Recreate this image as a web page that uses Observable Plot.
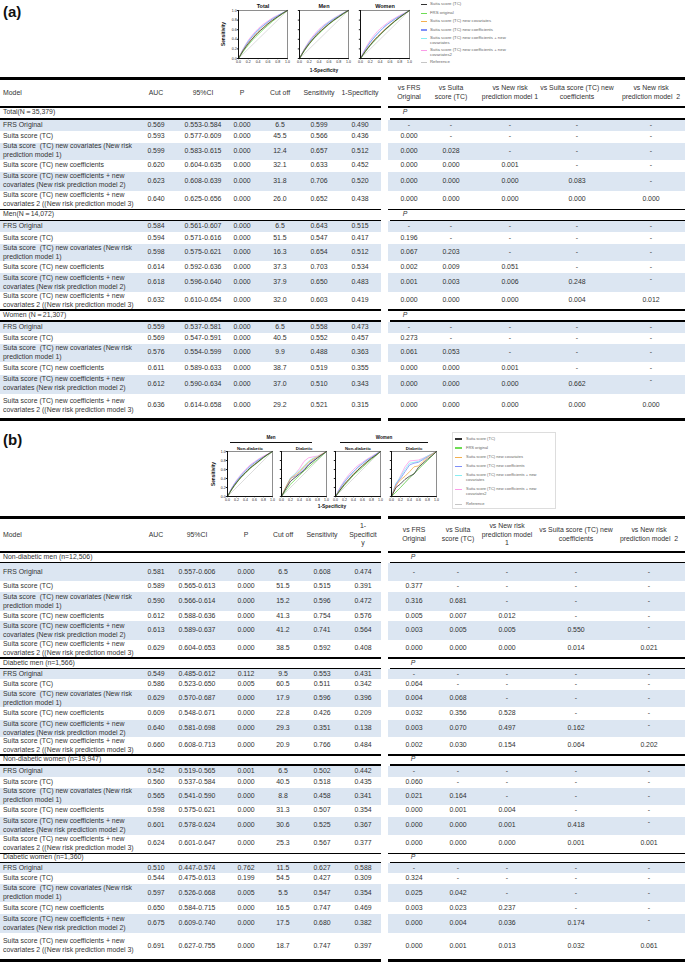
<!DOCTYPE html>
<html>
<head>
<meta charset="utf-8">
<script src="https://cdn.jsdelivr.net/npm/d3@7"></script>
<script src="https://cdn.jsdelivr.net/npm/@observablehq/plot@0.6"></script>
<style>
html, body { margin:0; padding:0; background:#fff; }
#page { position:relative; width:685px; height:963px; overflow:hidden; font-family:"Liberation Sans", Arial, sans-serif; color:#333; }
#page div { box-sizing:border-box; }
</style>
</head>
<body>
<div id="page"></div>
<script>
// ================= DATA =================
// ROC curve series (order of curves in each panel)
const seriesNames = ["Suita score (TC)", "FRS original", "Suita score (TC) new covariates", "Suita score (TC) new coefficients", "Suita score (TC) new coefficients + new covariates", "Suita score (TC) new coefficients + new covariates2"];
const legendLabels = ["Suita score (TC)", "FRS original", "Suita score (TC) new covariates", "Suita score (TC) new coefficients", "Suita score (TC) new coefficients + new\ncovariates", "Suita score (TC) new coefficients + new\ncovariates2", "Reference"];
const fpr = [0, 0.1, 0.2, 0.3, 0.4, 0.5, 0.6, 0.7, 0.8, 0.9, 1];
const refFpr = [0, 1];
const refTpr = [0, 1];

// (a) panels: sensitivity at each 1-specificity in fpr; rows = series order above
const rocTotal = [
  [0,.17,.31,.43,.54,.63,.72,.80,.87,.94,1],
  [0,.15,.28,.40,.50,.60,.69,.78,.86,.93,1],
  [0,.18,.32,.44,.55,.64,.73,.80,.87,.94,1],
  [0,.19,.35,.48,.59,.68,.76,.83,.89,.95,1],
  [0,.20,.36,.48,.59,.68,.76,.83,.89,.95,1],
  [0,.21,.38,.51,.62,.71,.78,.85,.90,.95,1]
];
const rocMen = [
  [0,.17,.31,.43,.54,.63,.72,.80,.87,.94,1],
  [0,.16,.30,.42,.52,.62,.71,.79,.86,.93,1],
  [0,.18,.32,.44,.55,.64,.72,.80,.87,.94,1],
  [0,.19,.34,.47,.58,.67,.75,.82,.88,.95,1],
  [0,.19,.35,.47,.58,.68,.76,.83,.89,.95,1],
  [0,.20,.37,.50,.61,.70,.77,.84,.90,.95,1]
];
const rocWomen = [
  [0,.15,.28,.40,.50,.60,.69,.78,.86,.93,1],
  [0,.14,.27,.38,.49,.59,.68,.77,.85,.93,1],
  [0,.16,.29,.41,.51,.61,.70,.78,.86,.93,1],
  [0,.19,.34,.46,.57,.67,.75,.82,.88,.94,1],
  [0,.18,.34,.47,.58,.67,.75,.82,.88,.94,1],
  [0,.21,.38,.51,.62,.70,.78,.84,.90,.95,1]
];
// (b) panels
const rocMenNonDiab = [
  [0,.17,.31,.43,.53,.63,.71,.79,.87,.94,1],
  [0,.16,.30,.42,.52,.62,.70,.78,.86,.93,1],
  [0,.17,.31,.43,.54,.63,.72,.79,.87,.94,1],
  [0,.19,.34,.46,.57,.67,.75,.82,.88,.94,1],
  [0,.19,.34,.47,.57,.67,.75,.82,.88,.94,1],
  [0,.20,.36,.49,.60,.70,.77,.84,.90,.95,1]
];
const rocMenDiab = [
  [0,.18,.34,.42,.50,.58,.70,.78,.86,.93,1],
  [0,.14,.27,.37,.47,.57,.65,.74,.82,.91,1],
  [0,.22,.40,.47,.55,.66,.76,.83,.88,.94,1],
  [0,.20,.40,.45,.52,.62,.72,.80,.86,.93,1],
  [0,.22,.42,.50,.58,.68,.78,.85,.89,.94,1],
  [0,.20,.40,.50,.62,.78,.86,.88,.90,.95,1]
];
const rocWomenNonDiab = [
  [0,.14,.27,.38,.49,.59,.68,.77,.85,.92,1],
  [0,.13,.25,.36,.47,.56,.65,.74,.83,.91,1],
  [0,.15,.28,.39,.50,.60,.69,.77,.85,.92,1],
  [0,.18,.32,.44,.55,.65,.73,.81,.87,.94,1],
  [0,.18,.33,.45,.55,.65,.73,.81,.87,.94,1],
  [0,.20,.36,.49,.60,.69,.76,.83,.89,.95,1]
];
const rocWomenDiab = [
  [0,.20,.28,.38,.45,.50,.65,.74,.83,.91,1],
  [0,.10,.20,.31,.42,.51,.61,.71,.80,.90,1],
  [0,.25,.37,.45,.55,.66,.68,.78,.87,.94,1],
  [0,.28,.40,.55,.70,.74,.76,.82,.88,.94,1],
  [0,.29,.44,.60,.74,.76,.78,.84,.90,.95,1],
  [0,.22,.46,.66,.79,.80,.81,.85,.90,.95,1]
];

// Table rows (models)
const models = [
  "FRS Original",
  "Suita score (TC)",
  "Suta score  (TC) new covariates (New risk\nprediction model 1)",
  "Suita score (TC) new coefficients",
  "Suita score (TC) new coefficients + new\ncovariates (New risk prediction model 2)",
  "Suita score (TC) new coefficients + new\ncovariates 2 ((New risk prediction model 3)"
];
const headLeftA = ["AUC", "95%CI", "P", "Cut off", "Sensitivity", "1-Specificity"];
const headLeftB = ["AUC", "95%CI", "P", "Cut off", "Sensitivity", "1-\nSpecificit\ny"];
const headRightA = ["vs FRS\nOriginal", "vs Suita\nscore (TC)", "vs New risk\nprediction model 1", "vs Suita score (TC) new\ncoefficients", "vs New risk\nprediction model  2"];
const headRightB = ["vs FRS\nOriginal", "vs Suita\nscore (TC)", "vs New risk\nprediction model\n1", "vs Suita score (TC) new\ncoefficients", "vs New risk\nprediction model  2"];

// (a) table
const groupsA = ["Total(N\uFF1D35,379)", "Men(N\uFF1D14,072)", "Women (N\uFF1D21,307)"];
const aucA = [[0.569,0.593,0.599,0.620,0.623,0.640],[0.584,0.594,0.598,0.614,0.618,0.632],[0.559,0.569,0.576,0.611,0.612,0.636]];
const ciA = [["0.553-0.584","0.577-0.609","0.583-0.615","0.604-0.635","0.608-0.639","0.625-0.656"],
             ["0.561-0.607","0.571-0.616","0.575-0.621","0.592-0.636","0.596-0.640","0.610-0.654"],
             ["0.537-0.581","0.547-0.591","0.554-0.599","0.589-0.633","0.590-0.634","0.614-0.658"]];
const pA = [[0,0,0,0,0,0],[0,0,0,0,0,0],[0,0,0,0,0,0]];
const cutA = [[6.5,45.5,12.4,32.1,31.8,26.0],[6.5,51.5,16.3,37.3,37.9,32.0],[6.5,40.5,9.9,38.7,37.0,29.2]];
const sensA = [[0.599,0.566,0.657,0.633,0.706,0.652],[0.643,0.547,0.654,0.703,0.650,0.603],[0.558,0.552,0.488,0.519,0.510,0.521]];
const specA = [[0.490,0.436,0.512,0.452,0.520,0.438],[0.515,0.417,0.512,0.534,0.483,0.419],[0.473,0.457,0.363,0.355,0.343,0.315]];
const cmpA = [
  [[],[0.000],[0.000,0.028],[0.000,0.000,0.001],[0.000,0.000,0.000,0.083],[0.000,0.000,0.000,0.000,0.000]],
  [[],[0.196],[0.067,0.203],[0.002,0.009,0.051],[0.001,0.003,0.006,0.248],[0.000,0.000,0.000,0.004,0.012]],
  [[],[0.273],[0.061,0.053],[0.000,0.000,0.001],[0.000,0.000,0.000,0.662],[0.000,0.000,0.000,0.000,0.000]]
];
const raisedDashA = [false, true, true];

// (b) table
const groupsB = ["Non-diabetic men (n=12,506)", "Diabetic men (n=1,566)", "Non-diabetic women (n=19,947)", "Diabetic women (n=1,360)"];
const aucB = [[0.581,0.589,0.590,0.612,0.613,0.629],[0.549,0.586,0.629,0.609,0.640,0.660],[0.542,0.560,0.565,0.598,0.601,0.624],[0.510,0.544,0.597,0.650,0.675,0.691]];
const ciB = [["0.557-0.606","0.565-0.613","0.566-0.614","0.588-0.636","0.589-0.637","0.604-0.653"],
             ["0.485-0.612","0.523-0.650","0.570-0.687","0.548-0.671","0.581-0.698","0.608-0.713"],
             ["0.519-0.565","0.537-0.584","0.541-0.590","0.575-0.621","0.578-0.624","0.601-0.647"],
             ["0.447-0.574","0.475-0.613","0.526-0.668","0.584-0.715","0.609-0.740","0.627-0.755"]];
const pB = [[0,0,0,0,0,0],[0.112,0.005,0,0,0,0],[0.001,0,0,0,0,0],[0.762,0.199,0.005,0,0,0]];
const cutB = [[6.5,51.5,15.2,41.3,41.2,38.5],[9.5,60.5,17.9,22.8,29.3,20.9],[6.5,40.5,8.8,31.3,30.6,25.3],[11.5,54.5,5.5,16.5,17.5,18.7]];
const sensB = [[0.608,0.515,0.596,0.754,0.741,0.592],[0.553,0.511,0.596,0.426,0.351,0.766],[0.502,0.518,0.458,0.507,0.525,0.567],[0.627,0.427,0.547,0.747,0.680,0.747]];
const specB = [[0.474,0.391,0.472,0.576,0.564,0.408],[0.431,0.342,0.396,0.209,0.138,0.484],[0.442,0.435,0.341,0.354,0.367,0.377],[0.588,0.309,0.354,0.469,0.382,0.397]];
const cmpB = [
  [[],[0.377],[0.316,0.681],[0.005,0.007,0.012],[0.003,0.005,0.005,0.550],[0.000,0.000,0.000,0.014,0.021]],
  [[],[0.064],[0.004,0.068],[0.032,0.356,0.528],[0.003,0.070,0.497,0.162],[0.002,0.030,0.154,0.064,0.202]],
  [[],[0.060],[0.021,0.164],[0.000,0.001,0.004],[0.000,0.000,0.001,0.418],[0.000,0.000,0.000,0.001,0.001]],
  [[],[0.324],[0.025,0.042],[0.003,0.023,0.237],[0.000,0.004,0.036,0.174],[0.000,0.001,0.013,0.032,0.061]]
];
const raisedDashB = [true, true, true, true];

// ================= STYLE / LAYOUT =================
const seriesColors = ["#333333", "#6fdd55", "#f4b04f", "#7f8ff8", "#88eef2", "#fb9ce8"];
const referenceColor = "#c6c6c6";
const shade = "#dce6f2";
const tableFont = 6.9;

const page = document.getElementById("page");
function el(css, text) {
  const d = document.createElement("div");
  d.style.cssText = "position:absolute;" + css;
  if (text != null) d.textContent = text;
  page.appendChild(d);
  return d;
}
function hline(y, x0, x1, w) { el(`left:${x0}px;top:${y}px;width:${x1 - x0}px;height:${w}px;background:#000;`); }
function band(y, h, x0, x1) { el(`left:${x0}px;top:${y}px;width:${x1 - x0}px;height:${h}px;background:${shade};`); }
function cell(x, y, w, h, text, align, extra) {
  return el(`left:${x}px;top:${y}px;width:${w}px;height:${h}px;display:flex;align-items:center;justify-content:${align === "left" ? "flex-start" : "center"};text-align:${align};font-size:${tableFont}px;line-height:8.6px;white-space:pre;${extra || ""}`, text);
}

function drawTable(T, L) {
  let y = L.top;
  hline(y, L.lx0, L.lx1, L.thick); hline(y, L.rx0, L.rx1, L.thick);
  y += L.thick;
  cell(L.modelX, y, 60, L.headerH, "Model", "left");
  T.headLeft.forEach((h, i) => cell(L.lc[i] - 30, y, 60, L.headerH, h, "center"));
  T.headRight.forEach((h, i) => cell(L.rc[i] - 45, y, 90, L.headerH, h, "center"));
  y += L.headerH;
  T.groups.forEach((g, gi) => {
    hline(y, L.lx0, L.lx1, L.line); hline(y, L.rx0, L.rx1, L.line);
    y += L.line;
    cell(L.modelX, y, 200, L.labelH[gi], g, "left");
    cell(L.pX - 10, y, 20, L.labelH[gi], "P", "center", "font-style:italic;");
    y += L.labelH[gi];
    hline(y, L.lx0, L.lx1, L.line); hline(y, L.rx0 + 2, L.rx1, L.line);
    y += L.line;
    L.rowH[gi].forEach((h, ri) => {
      if (ri % 2 === 0) { band(y, h, L.lx0, L.lx1); band(y, h, L.rx0, L.rx1); }
      cell(L.modelX, y, 150, h, T.models[ri], "left");
      const vals = [T.auc[gi][ri].toFixed(3), T.ci[gi][ri], T.p[gi][ri].toFixed(3), T.cut[gi][ri].toFixed(1), T.sens[gi][ri].toFixed(3), T.spec[gi][ri].toFixed(3)];
      vals.forEach((v, ci) => cell(L.lc[ci] - 30, y, 60, h, v, "center"));
      for (let ci = 0; ci < 5; ci++) {
        const v = T.cmp[gi][ri][ci];
        const raised = v == null && ri === 4 && ci === 4 && T.raised[gi];
        cell(L.rc[ci] - 30, y - (raised ? 3.5 : 0), 60, h, v == null ? "-" : v.toFixed(3), "center");
      }
      y += h;
    });
  });
  hline(y, L.lx0, L.lx1, L.thick); hline(y, L.rx0, L.rx1, L.thick);
}

drawTable(
  {headLeft: headLeftA, headRight: headRightA, groups: groupsA, models, auc: aucA, ci: ciA, p: pA, cut: cutA, sens: sensA, spec: specA, cmp: cmpA, raised: raisedDashA},
  {top: 77, thick: 3, headerH: 26, line: 1.5, labelH: [10.5, 9.5, 9.5],
   rowH: [[11,12,17,12,19,18],[11,12,17,12,19,17],[11,11,18,13,19,24]],
   lx0: 0, lx1: 381, rx0: 388, rx1: 685, modelX: 3,
   lc: [156, 203, 242, 280, 319, 360], rc: [409, 451, 510, 577, 651], pX: 405}
);
drawTable(
  {headLeft: headLeftB, headRight: headRightB, groups: groupsB, models, auc: aucB, ci: ciB, p: pB, cut: cutB, sens: sensB, spec: specB, cmp: cmpB, raised: raisedDashB},
  {top: 516, thick: 3, headerH: 32, line: 1.5, labelH: [9, 9, 8.5, 7.5],
   rowH: [[18,11,19,10,19,17],[10,11,17,13,17,17],[11,11,17,12,18,18],[10,11,18,12,19,26]],
   lx0: 0, lx1: 381, rx0: 388, rx1: 685, modelX: 3,
   lc: [156, 197, 246, 283, 322, 363], rc: [414, 458, 507, 576, 649], pX: 413}
);

// panel labels
el("left:3px;top:3px;font-size:15px;line-height:18px;font-weight:bold;color:#111;", "(a)");
el("left:3px;top:431px;font-size:15px;line-height:18px;font-weight:bold;color:#111;", "(b)");

// ================= ROC PLOTS =================
function rocPlot(curves, o) {
  const rows = [];
  for (let i = curves.length - 1; i >= 0; i--) {
    curves[i].forEach((t, j) => rows.push({series: seriesNames[i], fpr: fpr[j], tpr: t}));
  }
  const ref = refFpr.map((f, j) => ({fpr: f, tpr: refTpr[j]}));
  const ml = o.showY ? 10 : 2, mr = 3, mt = 10, mb = 8;
  const svg = Plot.plot({
    width: o.w + ml + mr, height: o.h + mt + mb,
    marginLeft: ml, marginRight: mr, marginTop: mt, marginBottom: mb,
    style: {fontFamily: "Liberation Sans, Arial, sans-serif", fontSize: "3.5px", background: "transparent", overflow: "visible", color: "#222"},
    x: {domain: [0, 1], ticks: 5, tickFormat: d3.format(".1f"), tickSize: 1.2, tickPadding: 0.6, label: null},
    y: {domain: [0, 1], ticks: 5, tickFormat: o.showY ? d3.format(".1f") : () => "", tickSize: 1.2, tickPadding: 0.6, label: null},
    color: {domain: seriesNames, range: seriesColors},
    marks: [
      Plot.line(ref, {x: "fpr", y: "tpr", stroke: referenceColor, strokeWidth: 0.6}),
      Plot.line(rows, {x: "fpr", y: "tpr", z: "series", stroke: "series", strokeWidth: 0.8, curve: o.curve}),
      Plot.frame({stroke: "#444", strokeWidth: 0.6}),
      Plot.ruleX([0], {stroke: "#111", strokeWidth: 1}),
      Plot.ruleY([0], {stroke: "#111", strokeWidth: 1}),
      Plot.text([o.title], {frameAnchor: "top", dy: -o.titleDy, fontWeight: "bold", fontSize: o.titleSize, fill: "#111"})
    ]
  });
  svg.style.position = "absolute";
  svg.style.left = (o.x - ml) + "px";
  svg.style.top = (o.y - mt) + "px";
  svg.style.maxWidth = "none";
  page.appendChild(svg);
}

function axisLabels(sx, sy, bx, by) {
  const wrap = el(`left:${sx}px;top:${sy}px;width:0;height:0;overflow:visible;`);
  const s = document.createElement("div");
  s.textContent = "Sensitivity";
  s.style.cssText = "position:absolute;left:0;top:0;transform:translate(-50%,-50%) rotate(-90deg);font-size:4.8px;font-weight:bold;white-space:nowrap;color:#111;";
  wrap.appendChild(s);
  el(`left:${bx - 30}px;top:${by - 3}px;width:60px;height:6px;text-align:center;font-size:4.8px;line-height:6px;font-weight:bold;color:#111;`, "1-Specificity");
}

function drawLegend(L) {
  if (L.box) el(`left:${L.box[0]}px;top:${L.box[1]}px;width:${L.box[2]}px;height:${L.box[3]}px;border:0.6px solid #ddd;`);
  legendLabels.forEach((lab, i) => {
    const y = L.ys[i];
    const col = i < seriesColors.length ? seriesColors[i] : referenceColor;
    el(`left:${L.sx}px;top:${y - 0.7}px;width:${L.sw}px;height:1.4px;background:${col};`);
    el(`left:${L.tx}px;top:${y - L.lh / 2}px;font-size:${L.fs}px;line-height:${L.lh}px;white-space:pre;color:#666;`, lab);
  });
}

try {
  // (a)
  const pa = [["Total", rocTotal, 238, true], ["Men", rocMen, 298.5, false], ["Women", rocWomen, 360, false]];
  pa.forEach(([t, c, x, s]) => rocPlot(c, {title: t, x, y: 10, w: 49, h: 48, showY: s, curve: "monotone-x", titleDy: 6, titleSize: 5.5}));
  axisLabels(223, 34, 324, 70.5);
  drawLegend({sx: 421, sw: 6, tx: 430, fs: 4.3, lh: 4.7, ys: [4.3, 13.3, 21.7, 30, 38.7, 50.7, 62.7]});

  // (b)
  const pb = [["Non-diabetic", rocMenNonDiab, 227, true, "monotone-x"], ["Diabetic", rocMenDiab, 281, false, "linear"],
              ["Non-diabetic", rocWomenNonDiab, 335, false, "monotone-x"], ["Diabetic", rocWomenDiab, 391, false, "linear"]];
  pb.forEach(([t, c, x, s, cv]) => rocPlot(c, {title: t, x, y: 451, w: 45, h: 45, showY: s, curve: cv, titleDy: 4.2, titleSize: 4.3}));
  el("left:230px;top:441.5px;width:82px;height:0.6px;background:#111;");
  el("left:340px;top:441.5px;width:88px;height:0.6px;background:#111;");
  el("left:246px;top:435px;width:50px;height:6px;text-align:center;font-size:4.6px;line-height:6px;font-weight:bold;color:#111;", "Men");
  el("left:359px;top:435px;width:50px;height:6px;text-align:center;font-size:4.6px;line-height:6px;font-weight:bold;color:#111;", "Women");
  axisLabels(213, 473.5, 332, 506.5);
  drawLegend({box: [452, 432, 104, 77], sx: 455, sw: 7, tx: 466, fs: 4, lh: 4.7, ys: [439, 448, 457.7, 466.7, 475.7, 489.7, 504.3]});
} catch (e) {
  console.error(e);
}
</script>
</body>
</html>
